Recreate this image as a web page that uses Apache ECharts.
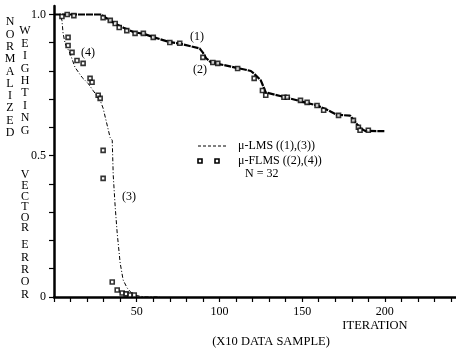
<!DOCTYPE html>
<html>
<head>
<meta charset="utf-8">
<script src="https://cdn.jsdelivr.net/npm/echarts@6/dist/echarts.min.js"></script>
<style>
  html, body { margin: 0; padding: 0; background: #fff; }
  #chart { width: 456px; height: 356px; }
</style>
</head>
<body>
<div id="chart"></div>
<script>
// (1) mu-LMS, slow curve
const lms1 = [
  [0, 1.0], [28, 1.0], [31, 0.99], [34, 0.978], [38, 0.965], [42, 0.953], [48, 0.938],
  [55, 0.93], [61, 0.918], [70, 0.902], [76, 0.897], [88, 0.88], [90, 0.865], [92, 0.845],
  [95, 0.83], [105, 0.818], [113, 0.808], [119, 0.8], [121, 0.79], [125, 0.767], [128, 0.724],
  [140, 0.707], [152, 0.688], [159, 0.678], [166, 0.66], [171, 0.645], [179, 0.642],
  [182, 0.62], [185, 0.598], [188, 0.588], [200, 0.587]
];
// (2) mu-FLMS, squares on the slow curve
const flms2 = [
  [8, 1.0], [12, 0.996], [29.7, 0.989], [34, 0.979], [37, 0.968], [39.4, 0.954], [44, 0.943],
  [49, 0.933], [54, 0.933], [60, 0.919], [70, 0.901], [76, 0.898], [90, 0.848], [96, 0.83],
  [99, 0.827], [111, 0.809], [121, 0.774], [126, 0.731], [128, 0.714], [139, 0.707],
  [141, 0.707], [149, 0.696], [153, 0.689], [159, 0.678], [163, 0.661], [172, 0.643],
  [181, 0.625], [184, 0.601], [185, 0.59], [190, 0.59]
];
// (3) mu-LMS, fast curve
const lms3 = [
  [0, 1.0], [3.6, 1.0], [4.8, 0.979], [5.5, 0.933], [6.7, 0.898], [9.7, 0.862], [12.7, 0.813],
  [17, 0.777], [20.6, 0.756], [23.6, 0.731], [27.9, 0.696], [29.7, 0.668], [33.9, 0.565],
  [35.2, 0.555], [35.8, 0.431], [37, 0.318], [38.2, 0.226], [40, 0.12], [41.8, 0.06],
  [44.2, 0.032], [47.9, 0.007], [55, 0], [64, 0]
];
// (4) mu-FLMS, squares on the fast curve
const flms4 = [
  [4.8, 0.993], [8.5, 0.919], [8.5, 0.89], [10.9, 0.866], [13.9, 0.837], [17.6, 0.827],
  [21.8, 0.774], [23, 0.76], [26.7, 0.714], [27.9, 0.703], [29.7, 0.519], [29.7, 0.42],
  [35.2, 0.053], [38.2, 0.025], [41.2, 0.014], [43.6, 0.011], [46, 0.007], [48.5, 0.007]
];
const xTickLabels = [50, 100, 150, 200];
const yTickLabels = { 0: '0', 0.5: '0.5', 1: '1.0' };

const SERIF = '"Liberation Serif", "DejaVu Serif", serif';
const chart = echarts.init(document.getElementById('chart'), null, { renderer: 'canvas' });

const sq = (data) => ({
  type: 'scatter', data, symbol: 'rect', symbolSize: 4,
  itemStyle: { color: '#fff', borderColor: '#000', borderWidth: 1.6 }, z: 4
});
const txt = (text, x, y, size, align, extra) => ({
  type: 'text', x: 0, y: 0,
  style: Object.assign({ text, x, y, fill: '#000', font: size + 'px ' + SERIF,
    align: align || 'center', verticalAlign: 'middle' }, extra || {})
});
const column = (letters, x, yTop, gap) =>
  txt(letters.split('').join('\n'), x, yTop, 12, 'center', { verticalAlign: 'top', lineHeight: gap });

const axisCommon = {
  axisLine: { show: true, lineStyle: { color: '#000', width: 2.5 } },
  axisTick: { show: true, length: 5, lineStyle: { color: '#000', width: 1.2 } },
  splitLine: { show: false }
};

chart.setOption({
  animation: false,
  backgroundColor: '#fff',
  grid: { left: 54, right: 0, top: 6, bottom: 59 },
  xAxis: Object.assign({
    type: 'value', min: 0, max: 243, interval: 10,
    axisLabel: {
      color: '#000', fontFamily: SERIF, fontSize: 12, margin: 9, showMaxLabel: false,
      formatter: (v) => (xTickLabels.includes(Math.round(v)) ? String(Math.round(v)) : '')
    }
  }, axisCommon),
  yAxis: Object.assign({
    type: 'value', min: 0, max: 1.03, interval: 0.1,
    axisLabel: {
      color: '#000', fontFamily: SERIF, fontSize: 12, margin: 8, showMaxLabel: false,
      formatter: (v) => {
        const k = Math.round(v * 10) / 10;
        return yTickLabels[k] !== undefined ? yTickLabels[k] : '';
      }
    }
  }, axisCommon),
  series: [
    { type: 'line', data: lms1, showSymbol: false, lineStyle: { color: '#000', width: 2.2, type: [7, 1] }, z: 3 },
    sq(flms2),
    { type: 'line', data: lms3, showSymbol: false, lineStyle: { color: '#000', width: 1, type: [4, 2, 1, 2] }, z: 3 },
    sq(flms4)
  ],
  graphic: [
    column('NORMALIZED', 10, 16, 12.3),
    column('WEIGHTING', 25, 25, 12.4),
    column('VECTOR', 25, 170, 10.6),
    column('ERROR', 25, 239, 12.3),
    txt('(1)', 197, 37, 12),
    txt('(2)', 200, 70, 12),
    txt('(3)', 129, 197, 12),
    txt('(4)', 88, 53, 12),
    { type: 'line', shape: { x1: 198, y1: 146, x2: 228, y2: 146 },
      style: { stroke: '#000', lineWidth: 1, lineDash: [3, 2] } },
    { type: 'rect', shape: { x: 198, y: 159, width: 4, height: 4 },
      style: { fill: '#fff', stroke: '#000', lineWidth: 1.6 } },
    { type: 'rect', shape: { x: 215, y: 159, width: 4, height: 4 },
      style: { fill: '#fff', stroke: '#000', lineWidth: 1.6 } },
    txt('μ-LMS ((1),(3))', 238, 146, 12, 'left'),
    txt('μ-FLMS ((2),(4))', 238, 161, 12, 'left'),
    txt('N = 32', 245, 174, 12, 'left'),
    txt('ITERATION', 375, 326, 12.5),
    txt('(X10 DATA SAMPLE)', 271, 342, 12.5)
  ]
});
</script>
</body>
</html>
